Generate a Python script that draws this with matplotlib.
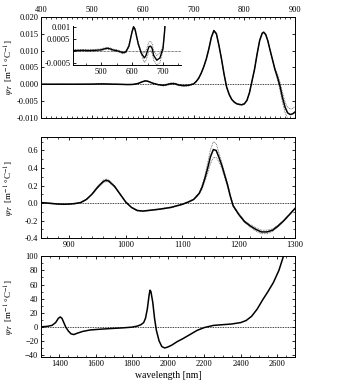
import numpy as np
import matplotlib
matplotlib.use('Agg')
import matplotlib.pyplot as plt
from matplotlib.ticker import MultipleLocator

plt.rcParams['font.family'] = ['Liberation Serif', 'DejaVu Serif']
plt.rcParams['mathtext.fontset'] = 'stix'

# panel 1: 400-900 nm
wl1 = [400, 420, 440, 460, 480, 500, 510, 520, 530, 540, 550, 560, 570, 580, 590,
       600, 605, 610, 615, 620, 630, 640, 645, 650, 655, 660, 665, 670, 680, 690,
       700, 705, 710, 715, 720, 725, 730, 735, 740, 745, 750, 755, 760, 765, 770,
       775, 780, 785, 790, 795, 800, 805, 810, 815, 820, 825, 830, 835, 838, 842,
       846, 850, 855, 860, 865, 870, 875, 880, 885, 890, 895, 900]
psi1 = [0.00002, 0.00001, 0.00002, 0.00001, 0.00002, 0.00004, 0.00008, 0.00011, 0.00008,
        0.00003, 0.00001, -0.00003, -0.00008, -0.00005, 0.0002,
        0.0008, 0.00102, 0.0009, 0.0006, 0.0003, -0.0001, -0.0003, -0.0002, 0.0,
        0.00018, 0.0002, 0.0001, -0.0002, -0.0004, -0.0003,
        0.0001, 0.0008, 0.0018, 0.0033, 0.0052, 0.0075, 0.0105, 0.0140, 0.0160,
        0.0150, 0.0115, 0.0075, 0.0030, -0.0008, -0.0030,
        -0.0045, -0.0053, -0.0058, -0.0060, -0.0061, -0.0058, -0.0048, -0.0025,
        0.0010, 0.0045, 0.0090, 0.0130, 0.0152, 0.0155, 0.0148,
        0.0130, 0.0105, 0.0075, 0.0045, 0.0022, -0.0005, -0.0040, -0.0068,
        -0.0085, -0.0090, -0.0088, -0.0082]
dpsi1 = [0.00004] * 14 + [0.00005] * 7 + [0.0002] * 9 + [0.0001] * 33 + \
        [0.0003, 0.0008, 0.0012, 0.0015, 0.0016, 0.0016, 0.0016, 0.0016, 0.0016]

# panel 2: 850-1300 nm
wl2 = [850, 860, 870, 880, 890, 900, 910, 920, 930, 940, 950, 960, 965, 970, 980,
       990, 1000, 1010, 1020, 1030, 1040, 1060, 1080, 1100, 1110, 1120, 1130, 1135,
       1140, 1145, 1150, 1155, 1160, 1165, 1170, 1175, 1180, 1185, 1190, 1200, 1210,
       1220, 1230, 1240, 1250, 1260, 1270, 1280, 1290, 1300]
psi2 = [0.005, 0.0, -0.006, -0.012, -0.014, -0.012, -0.006, 0.005, 0.04, 0.10,
        0.18, 0.245, 0.26, 0.25, 0.19, 0.10, 0.01, -0.05, -0.085, -0.092, -0.085,
        -0.07, -0.05, -0.015, 0.01, 0.04, 0.11, 0.18, 0.28, 0.40, 0.53, 0.61, 0.60,
        0.52, 0.43, 0.32, 0.21, 0.08, -0.03, -0.13, -0.21, -0.26, -0.30, -0.33,
        -0.33, -0.31, -0.26, -0.20, -0.13, -0.06]
dpsi2 = [0.004] * 10 + [0.01, 0.015, 0.015, 0.012, 0.008] + [0.004] * 11 + \
        [0.01, 0.02, 0.03, 0.06, 0.08, 0.09, 0.08, 0.05, 0.03, 0.025, 0.02, 0.015,
         0.01, 0.01, 0.012, 0.015, 0.02, 0.02, 0.02, 0.015, 0.01, 0.008, 0.005, 0.005]

# panel 3: 1300-2700 nm
wl3 = [1300, 1330, 1360, 1380, 1395, 1405, 1415, 1425, 1435, 1450, 1465, 1480,
       1500, 1530, 1570, 1620, 1680, 1750, 1800, 1830, 1850, 1865, 1875, 1885,
       1895, 1900, 1905, 1915, 1925, 1935, 1950, 1965, 1980, 1995, 2020, 2050,
       2080, 2120, 2160, 2200, 2250, 2300, 2350, 2400, 2430, 2460, 2490, 2520,
       2550, 2580, 2610, 2635]
psi3 = [0, 0.5, 2, 6, 12, 14, 12, 6, 0, -6, -10, -11, -9, -6.5, -4.5, -3.5, -2.5,
        -1.5, -0.5, 1, 3, 6, 12, 25, 45, 52, 50, 35, 12, -5, -20, -28, -30, -29,
        -26, -21, -17, -11, -5, -1, 2, 3, 4, 6, 9, 15, 25, 38, 50, 63, 80, 100]

fs = 6
ylab = r'$\psi_T$  [m$^{-1}$ °C$^{-1}$]'

fig = plt.figure(figsize=(3.37, 3.89), dpi=100)
ax1 = fig.add_axes([0.122, 0.697, 0.754, 0.259])
ax2 = fig.add_axes([0.122, 0.388, 0.754, 0.259])
ax3 = fig.add_axes([0.122, 0.082, 0.754, 0.259])
ins = fig.add_axes([0.217, 0.833, 0.32, 0.1])


def band(ax, x, y, d):
    x = np.array(x)
    y = np.array(y)
    d = np.array(d)
    ax.plot(x, y + d, color='0.35', lw=0.6, ls=(0, (1, 1)))
    ax.plot(x, y - d, color='0.35', lw=0.6, ls=(0, (1, 1)))


for ax in (ax1, ax2, ax3):
    ax.axhline(0, color='black', lw=0.6, ls=(0, (1, 1)))
    ax.tick_params(direction='in', top=True, right=True, labelsize=fs,
                   length=2.5, width=0.6, pad=2)
    ax.tick_params(which='minor', direction='in', top=True, right=True,
                   length=1.3, width=0.5)
    ax.set_ylabel(ylab, fontsize=6.5, va='center')
    ax.yaxis.set_label_coords(-0.122, 0.5)
    for s in ax.spines.values():
        s.set_linewidth(0.7)

# panel 1
band(ax1, wl1, psi1, dpsi1)
ax1.plot(wl1, psi1, color='black', lw=1.1)
ax1.set_xlim(400, 900)
ax1.set_ylim(-0.010, 0.020)
ax1.xaxis.set_major_locator(MultipleLocator(100))
ax1.xaxis.set_minor_locator(MultipleLocator(10))
ax1.tick_params(labelbottom=False, labeltop=True)
ax1.set_yticks([-0.010, -0.005, 0.0, 0.005, 0.010, 0.015, 0.020])
ax1.set_yticklabels(['-0.010', '-0.005', '0.000', '0.005', '0.010', '0.015', '0.020'])

# inset
band(ins, wl1, psi1, dpsi1)
ins.plot(wl1, psi1, color='black', lw=1.0)
ins.axhline(0, color='black', lw=0.5, ls=(0, (1, 1)))
ins.set_xlim(410, 758)
ins.set_ylim(-0.0006, 0.00105)
ins.spines['top'].set_visible(False)
ins.spines['right'].set_visible(False)
ins.patch.set_alpha(0)
ins.set_xticks([500, 600, 700])
ins.xaxis.set_minor_locator(MultipleLocator(50))
ins.set_yticks([-0.0005, 0, 0.0005, 0.001])
ins.set_yticklabels(['-0.0005', '', '0.0005', '0.001'])
ins.tick_params(direction='in', labelsize=fs, length=2.5, width=0.6, pad=2)
ins.tick_params(which='minor', direction='in', length=1.3, width=0.5)
for s in ins.spines.values():
    s.set_linewidth(0.7)

# panel 2
band(ax2, wl2, psi2, dpsi2)
ax2.plot(wl2, psi2, color='black', lw=1.1)
ax2.set_xlim(850, 1300)
ax2.set_ylim(-0.4, 0.75)
ax2.xaxis.set_major_locator(MultipleLocator(100))
ax2.xaxis.set_minor_locator(MultipleLocator(20))
ax2.set_yticks([-0.4, -0.2, 0.0, 0.2, 0.4, 0.6])
ax2.set_yticklabels(['-0.4', '-0.2', '0.0', '0.2', '0.4', '0.6'])
ax2.yaxis.set_minor_locator(MultipleLocator(0.1))

# panel 3
ax3.plot(wl3, psi3, color='black', lw=1.1)
ax3.set_xlim(1300, 2700)
ax3.set_ylim(-43, 100)
ax3.xaxis.set_major_locator(MultipleLocator(200))
ax3.xaxis.set_minor_locator(MultipleLocator(50))
ax3.yaxis.set_major_locator(MultipleLocator(20))
ax3.yaxis.set_minor_locator(MultipleLocator(10))
ax3.set_xlabel('wavelength [nm]', fontsize=7, labelpad=2)

fig.savefig('out.png', dpi=100)
